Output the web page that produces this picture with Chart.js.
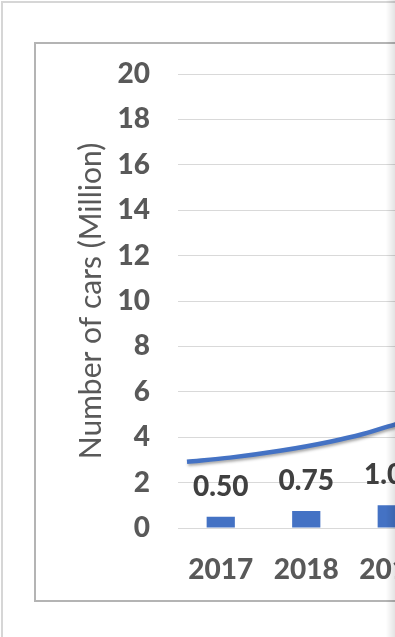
<!DOCTYPE html>
<html>
<head>
<meta charset="utf-8">
<script src="https://cdn.jsdelivr.net/npm/chart.js@4"></script>
<style>
  html, body { margin: 0; padding: 0; width: 395px; height: 637px; overflow: hidden; background: #fff; }
  #frame { position: absolute; left: 1px; top: 1px; width: 600px; height: 700px;
           border-left: 2px solid #d6d6d6; border-top: 2px solid #d6d6d6; }
  #box { position: absolute; left: 34px; top: 42px; width: 442px; height: 556px;
         border: 2px solid #b4b4b4; background: #fff; }
  #edge { position: absolute; left: 386px; top: 0; width: 9px; height: 637px;
          background: linear-gradient(to right, rgba(0,0,0,0), rgba(0,0,0,0.11)); }
  canvas { display: block; }
</style>
</head>
<body>
<div id="frame"></div>
<div id="box"><canvas id="cars-chart" width="442" height="556"></canvas></div>
<div id="edge"></div>
<script>
// Yearly figures (million cars)
let years = ['2017', '2018', '2019'];
let cars = [0.50, 0.75, 1.00];

// Trendline points: x in category units (2017 = 0), y in million
let trendX = [-0.395, 0.108, 0.693, 1.278, 1.664, 2.05];
let trendY = [2.92, 3.10, 3.40, 3.80, 4.14, 4.58];

let yTicks = [0, 2, 4, 6, 8, 10, 12, 14, 16, 18, 20];

const blue = '#4472C4';
const grey = '#595959';

// Value labels above each bar
const valueLabels = {
    id: 'valueLabels',
    afterDatasetsDraw(chart) {
        const meta = chart.getDatasetMeta(0);
        const ctx = chart.ctx;
        ctx.save();
        ctx.font = '900 28px Lato';
        ctx.fillStyle = '#404040';
        ctx.textAlign = 'center';
        ctx.textBaseline = 'middle';
        meta.data.forEach((bar, i) => {
            ctx.fillText(cars[i].toFixed(2), bar.x, bar.y - 30);
        });
        ctx.restore();
    }
};

// Soft shadow under the trendline
const lineShadow = {
    id: 'lineShadow',
    beforeDatasetDraw(chart, args) {
        if (args.index !== 1) return;
        const ctx = chart.ctx;
        ctx.save();
        ctx.shadowColor = 'rgba(0,0,0,0.35)';
        ctx.shadowBlur = 3;
        ctx.shadowOffsetX = 1;
        ctx.shadowOffsetY = 2;
    },
    afterDatasetDraw(chart, args) {
        if (args.index === 1) chart.ctx.restore();
    }
};

const data = {
    labels: years,
    datasets: [{
        type: 'bar',
        label: 'Cars',
        data: cars,
        backgroundColor: blue,
        barPercentage: 0.33,
        categoryPercentage: 1,
        grouped: false,
        xAxisID: 'x',
        order: 2
    }, {
        type: 'line',
        label: 'Trend',
        data: trendX.map((x, i) => ({ x: x, y: trendY[i] })),
        borderColor: blue,
        borderWidth: 4.5,
        pointRadius: 0,
        cubicInterpolationMode: 'monotone',
        xAxisID: 'xT',
        order: 1
    }]
};

const tickFont = { family: 'Lato', size: 28, weight: 900 };

var ctx = document.getElementById('cars-chart').getContext('2d');
var carsChart = new Chart(ctx, {
    type: 'bar',
    data,
    plugins: [valueLabels, lineShadow],
    options: {
        responsive: false,
        animation: false,
        layout: { padding: { top: 30, right: 43.5, bottom: 0, left: 0 } },
        plugins: {
            legend: { display: false },
            tooltip: { enabled: false }
        },
        scales: {
            x: {
                type: 'category',
                offset: true,
                grid: { display: false, drawTicks: false },
                border: { display: false },
                ticks: { color: grey, padding: 25, font: tickFont },
                afterFit(scale) { scale.height = 72; }
            },
            xT: {
                type: 'linear',
                display: false,
                offset: false,
                min: -0.5,
                max: 2.5
            },
            y: {
                min: 0,
                max: 20,
                afterBuildTicks(scale) { scale.ticks = yTicks.map(v => ({ value: v })); },
                grid: { color: '#d9d9d9', lineWidth: 1, drawTicks: false },
                border: { display: false },
                ticks: { color: grey, padding: 28, font: tickFont },
                title: {
                    display: true,
                    text: 'Number of cars (Million)',
                    color: grey,
                    padding: { top: 37, bottom: 0 },
                    font: { family: 'Lato', size: 30 }
                },
                afterFit(scale) {
                    scale.width = 142;
                    scale.paddingTop = 0;
                    scale.paddingBottom = 0;
                }
            }
        }
    }
});
</script>
</body>
</html>
